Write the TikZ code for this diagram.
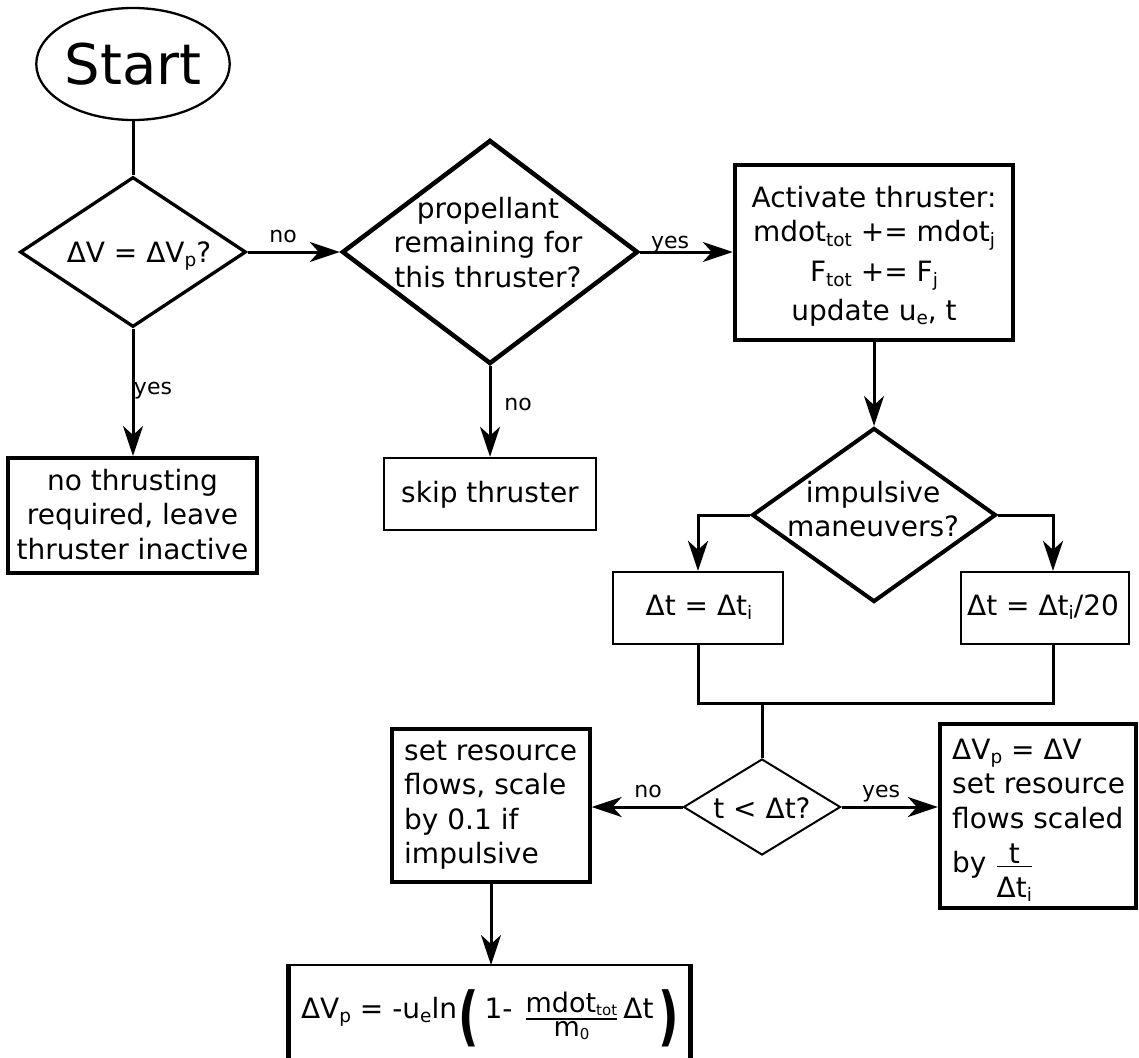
\documentclass[tikz,border=0pt]{standalone}
\usepackage{fontspec}
\setmainfont{DejaVu Sans}
\usepackage{graphicx}
\usetikzlibrary{shapes.geometric,arrows.meta}

% lowered subscripts in two sizes
\newcommand\sbs[1]{\raisebox{-0.3ex}{\fontsize{18.5}{18.5}\selectfont #1}}
\newcommand\sbst[1]{\raisebox{-0.2ex}{\fontsize{15}{15}\selectfont #1}}
% stacked lines whose baseline is the first line
\newcommand\stack[2][c]{\begin{tabular}[t]{@{}#1@{}}#2\end{tabular}}
% tall parenthesis centred on the baseline
\newcommand\bigparen[1]{\raisebox{-20pt}{\scalebox{1.6}[2.3]{\bfseries #1}}}

\begin{document}
\begin{tikzpicture}[x=1pt,y=-1pt,
  every node/.style={font=\fontsize{28}{34.5}\selectfont, inner sep=0pt},
  txt/.style={anchor=base},
  lbl/.style={anchor=base, font=\fontsize{22}{26}\selectfont},
  proc/.style={draw, rectangle},
  dec/.style={draw, diamond},
  conn/.style={line width=3pt},
  arr/.style={conn, -{Stealth[length=30pt,width=20pt,inset=9pt]}}
]
\useasboundingbox (0,0) rectangle (1139,1057);
\clip (0,0) rectangle (1139,1057);

% start
\node[draw, ellipse, line width=2.3pt, minimum width=188pt, minimum height=112pt,
      font=\fontsize{56}{60}\selectfont] (start) at (133,64) {Start};

% first decision
\node[dec, line width=3.3pt, minimum width=226pt, minimum height=150pt] (d1) at (133,252) {};
\node[txt] (d1t) at (139,262) {ΔV = ΔV\sbs{p}?};

% propellant check
\node[dec, line width=4.5pt, minimum width=296pt, minimum height=224pt] (d2) at (490,252) {};
\node[txt] (d2t) at (488,218) {\stack{propellant\\remaining for\\this thruster?}};

% activate thruster
\node[proc, line width=4.5pt, minimum width=278pt, minimum height=175pt] (act) at (874,252.5) {};
\node[txt] (actt) at (874,207) {\stack{Activate thruster:\\mdot\sbs{tot} += mdot\sbs{j}\\[5.5pt]F\sbs{tot} += F\sbs{j}\\[4pt]update u\sbs{e}, t}};

% no thrust
\node[proc, line width=4pt, minimum width=249pt, minimum height=115pt] (nt) at (132.5,515.5) {};
\node[txt] (ntt) at (132.5,490) {\stack{no thrusting\\required, leave\\thruster inactive}};

% skip
\node[proc, line width=2.5pt, minimum width=212pt, minimum height=72pt] (sk) at (490,494) {};
\node[txt] (skt) at (490,502) {skip thruster};

% impulsive decision
\node[dec, line width=4pt, minimum width=244pt, minimum height=174pt] (d3) at (874,515) {};
\node[txt] (d3t) at (873,502) {\stack{impulsive\\maneuvers?}};

% time steps
\node[proc, line width=2.3pt, minimum width=170pt, minimum height=72pt] (dt1) at (698,608) {};
\node[txt] (dt1t) at (699,615) {Δt = Δt\sbs{i}};
\node[proc, line width=2.3pt, minimum width=168pt, minimum height=72pt] (dt2) at (1045,608) {};
\node[txt] (dt2t) at (1043,615) {Δt = Δt\sbs{i}/20};

\coordinate (jn) at (762,703);

% time decision
\node[dec, line width=2pt, minimum width=157pt, minimum height=96pt] (d4) at (762,807) {};
\node[txt] (d4t) at (762,818) {t < Δt?};

% resource flows
\node[proc, line width=3.4pt, minimum width=198pt, minimum height=153pt] (sr) at (491,805.5) {};
\node[txt, anchor=base west] (srt) at (404,760) {\stack[l]{set resource\\flows, scale\\by 0.1 if\\impulsive}};

\node[proc, line width=4.3pt, minimum width=196pt, minimum height=184pt] (vp) at (1038,816) {};
\node[txt, anchor=base west] (vpt) at (952,759) {\stack[l]{ΔV\sbs{p} = ΔV\\set resource\\flows scaled\\[5pt]by $\mbox{t}\above1.8pt\mbox{\rule{0pt}{28pt}Δt\sbs{i}}$}};

% rocket equation, box open at the bottom edge
\node[outer sep=0pt, minimum width=402pt, minimum height=125pt] (vf) at (489,1027.5) {};
\draw[line width=2.3pt] (vf.north west) -- (vf.north east);
\draw[line width=5pt] ([yshift=1.15pt]vf.north west) -- (vf.south west);
\draw[line width=5pt] ([yshift=1.15pt]vf.north east) -- (vf.south east);
\node[anchor=base] (vft) at (490,1018)
  {ΔV\sbs{p} = -u\sbs{e}ln\hspace{1pt}\bigparen{(}\hspace{6pt}1-\hspace{12pt}\raisebox{-7pt}{$\mbox{\fontsize{27}{27}\selectfont mdot\sbst{tot}}\above2pt\mbox{\fontsize{27}{27}\selectfont m\sbst{0}}$}\hspace{5pt}Δt\hspace{5pt}\bigparen{)}};

% connectors
\draw[conn] (start) -- (d1);
\draw[arr] (d1.east) -- (d2.west);
\draw[arr] (d1.south) -- (d1.south |- nt.north);
\draw[arr] (d2.east) -- (d2.east -| act.west);
\draw[arr] (d2.south) -- (d2.south |- sk.north);
\draw[arr] (act.south) -- (d3.north);
\draw[arr] (d3.west) -| (dt1.north);
\draw[arr] (d3.east) -| ([xshift=8pt]dt2.north);
\draw[conn] (dt1.south) |- (jn) -| ([xshift=8pt]dt2.south);
\draw[conn] (jn) -- (d4.north);
\draw[arr] (d4.west) -- (d4.west -| sr.east);
\draw[arr] (d4.east) -- (d4.east -| vp.west);
\draw[arr] (sr.south) -- (sr.south |- vf.north);

% branch labels
\node[lbl] (l1) at (283,242) {no};
\node[lbl] (l2) at (670,248) {yes};
\node[lbl] (l3) at (153,394) {yes};
\node[lbl] (l4) at (518,410) {no};
\node[lbl] (l5) at (648,797) {no};
\node[lbl] (l6) at (881,797) {yes};
\end{tikzpicture}
\end{document}
